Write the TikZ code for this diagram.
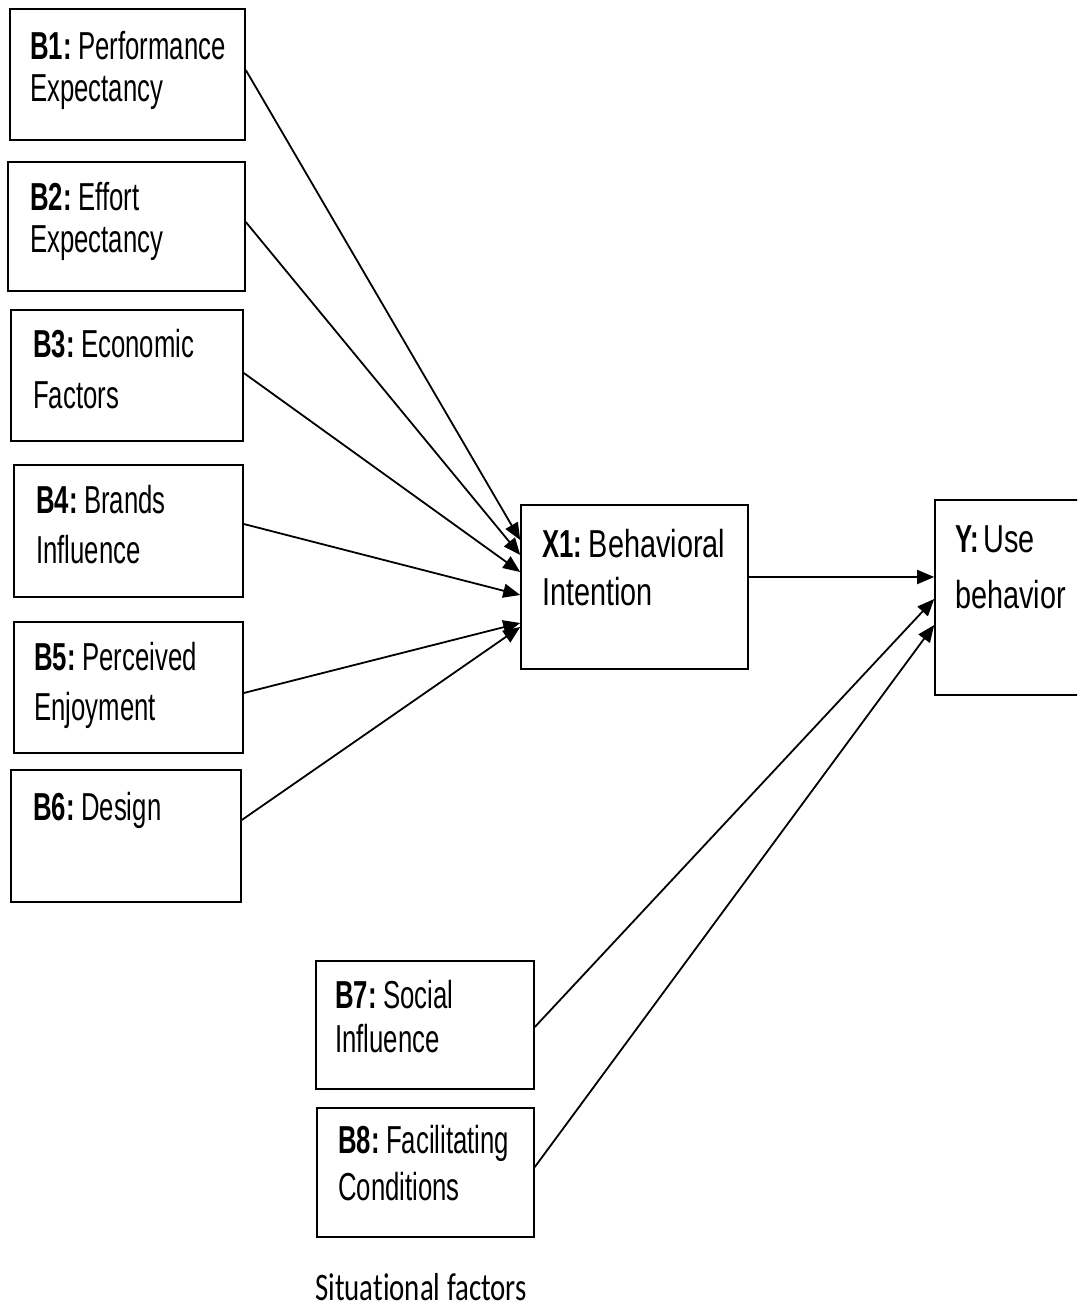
\documentclass[tikz,border=0pt]{standalone}
\usepackage{fontspec}
\setmainfont{Liberation Sans}[FakeStretch=0.66]
\newfontfamily\wfont{Liberation Sans}[FakeStretch=0.74]
\newfontfamily\calfont{Carlito}[FakeStretch=0.74, Ligatures={NoCommon}]
\usetikzlibrary{arrows.meta}
\newcommand\twoline[3]{\vtop{\baselineskip=#1pt\hbox{#2}\hbox{#3}}}
\begin{document}
\begin{tikzpicture}[x=1pt,y=-1pt,
  box/.style={draw, line width=1.6pt, inner sep=0pt},
  lbl/.style={anchor=base west, inner sep=0pt, font=\fontsize{39}{42}\selectfont},
  conn/.style={line width=1.8pt, -{Triangle[length=17pt,width=14pt]}}]
\clip (0,0) rectangle (1077,1308);
\fill[white] (0,0) rectangle (1077,1308);
% boxes
\node[box, minimum width=235pt, minimum height=131pt] (b1) at (127.5,74.5) {};
\node[box, minimum width=237pt, minimum height=129pt] (b2) at (126.5,226.5) {};
\node[box, minimum width=232pt, minimum height=131pt] (b3) at (127,375.5) {};
\node[box, minimum width=229pt, minimum height=132pt] (b4) at (128.5,531) {};
\node[box, minimum width=229pt, minimum height=131pt] (b5) at (128.5,687.5) {};
\node[box, minimum width=230pt, minimum height=132pt] (b6) at (126,836) {};
\node[box, minimum width=227pt, minimum height=164pt] (x1) at (634.5,587) {};
\node[box, minimum width=165pt, minimum height=195pt] (y) at (1017.5,597.5) {};
\node[box, minimum width=218pt, minimum height=128pt] (b7) at (425,1025) {};
\node[box, minimum width=217pt, minimum height=129pt] (b8) at (425.5,1172.5) {};
% texts
\node[lbl] (t1) at (30,60) {\twoline{42}{\textbf{B1:}\hspace{-3pt} Performance}{Expectancy}};
\node[lbl] (t2) at (30,210) {\twoline{42}{\textbf{B2:}\hspace{-3pt} Effort}{Expectancy}};
\node[lbl] (t3) at (33,357) {\twoline{51}{\textbf{B3:}\hspace{-3pt} Economic}{Factors}};
\node[lbl] (t4) at (36,513) {\twoline{50}{\textbf{B4:}\hspace{-3pt} Brands}{Influence}};
\node[lbl] (t5) at (34,670) {\twoline{50}{\textbf{B5:}\hspace{-3pt} Perceived}{Enjoyment}};
\node[lbl] (t6) at (33,820) {\textbf{B6:}\hspace{-3pt} Design};
\node[lbl] (tx) at (542,557) {\twoline{48}{\textbf{X1:}\hspace{-3pt} {\wfont Behavioral}}{\wfont Intention}};
\node[lbl] (ty) at (955,552) {\twoline{56}{\textbf{Y:}\hspace{-3pt} {\wfont Use}}{\wfont behavior}};
\node[lbl] (t7) at (335,1008) {\twoline{44}{\textbf{B7:}\hspace{-3pt} Social}{Influence}};
\node[lbl] (t8) at (338,1153) {\twoline{47}{\textbf{B8:}\hspace{-3pt} Facilitating}{Conditions}};
\node[anchor=base west, inner sep=0pt, font=\calfont\fontsize{39}{42}\selectfont] (sf) at (315,1300) {Situational factors};
% connectors
\draw[conn] ([yshift=4.5pt]b1.east) -- ([yshift=47pt]x1.west);
\draw[conn] ([yshift=4.5pt]b2.east) -- ([yshift=32pt]x1.west);
\draw[conn] ([yshift=2.5pt]b3.east) -- ([yshift=15pt]x1.west);
\draw[conn] ([yshift=7pt]b4.east) -- ([yshift=-8pt]x1.west);
\draw[conn] ([yshift=-5.5pt]b5.east) -- ([yshift=-36pt]x1.west);
\draw[conn] ([yshift=16pt]b6.east) -- ([yshift=-40pt]x1.west);
\draw[conn] ([yshift=10pt]x1.east) -- ([yshift=20.5pt]y.west);
\draw[conn] ([yshift=-2pt]b7.east) -- ([yshift=-1.5pt]y.west);
\draw[conn] ([yshift=5.5pt]b8.east) -- ([yshift=-27.5pt]y.west);
\end{tikzpicture}
\end{document}
